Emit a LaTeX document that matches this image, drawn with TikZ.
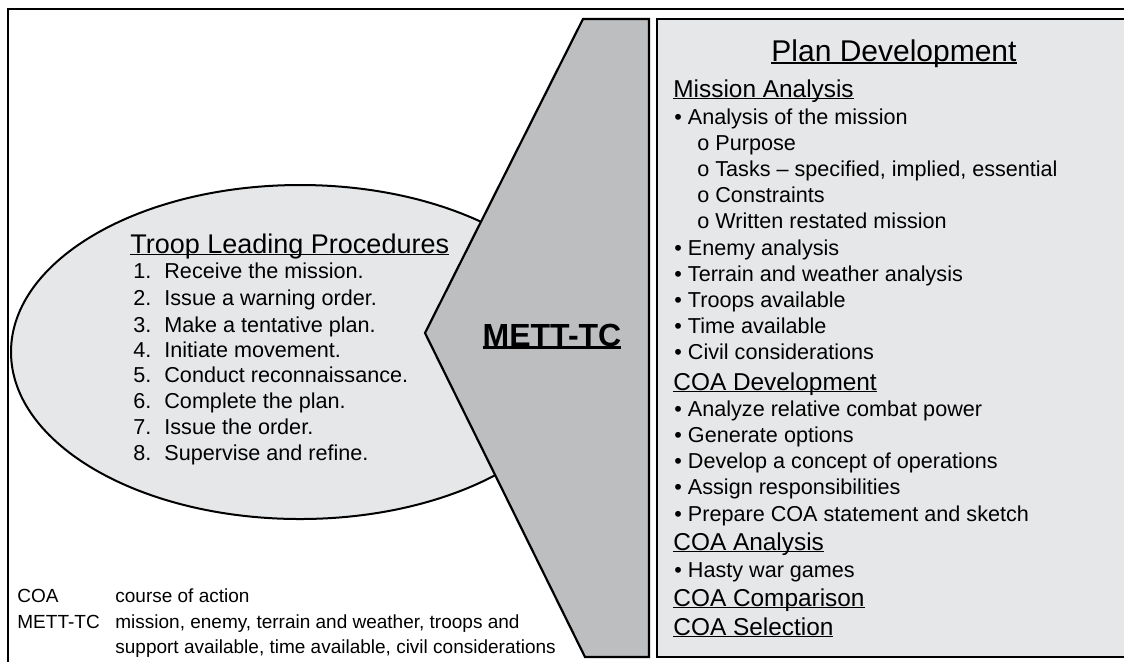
\documentclass[tikz,border=0pt]{standalone}
\usepackage{fontspec}
\setmainfont{Liberation Sans}
\definecolor{lightfill}{RGB}{230,231,232}
\definecolor{darkfill}{RGB}{188,190,192}
\newcommand{\undl}[2][0.06em]{\setbox0=\hbox{#2}\rlap{\rule[-0.09em]{\wd0}{#1}}\box0}

\begin{document}
\begin{tikzpicture}[x=0.5pt, y=-0.5pt,
  item/.style={anchor=base west, inner sep=0pt, font=\fontsize{10.8}{13}\selectfont},
  heading/.style={anchor=base west, inner sep=0pt, font=\fontsize{12.2}{14}\selectfont},
  proc/.style={anchor=base west, inner sep=0pt, font=\fontsize{10.8}{13}\selectfont},
  legend/.style={anchor=base west, inner sep=0pt, font=\fontsize{9.5}{12}\selectfont}]
\useasboundingbox (0,0) rectangle (1124,661);
\draw [line width=1.3pt] (8,700) -- (8,9) -- (1200,9);
\draw [fill=lightfill, line width=1pt] (300,352) ellipse [x radius=289, y radius=167];
\draw [fill=darkfill, line width=1.1pt] (583,19) -- (649,19) -- (649,657) -- (585,657) -- (425,333) -- cycle;
\draw [fill=lightfill, line width=1.3pt] (657,19) rectangle (1150,657);

\node [anchor=base, inner sep=0pt, font=\fontsize{16}{19}\bfseries] (mett) at (552,346) {\undl[0.09em]{METT-TC}};

\node [anchor=base west, inner sep=0pt, font=\fontsize{13.5}{16}\selectfont] (tlp) at (130,253) {\undl{Troop Leading Procedures}};
\foreach \yy/\txt [count=\i] in {278/Receive the mission., 305/Issue a warning order., 332/Make a tentative plan., 357/Initiate movement., 382/Conduct reconnaissance., 408/Complete the plan., 434/Issue the order., 460/Supervise and refine.}
  \node [proc] (proc-\i) at (133,\yy) {\makebox[15.5pt][l]{\i.}\txt};

\node [anchor=base, inner sep=0pt, font=\fontsize{15}{18}\selectfont] (pd) at (894,61) {\undl{Plan Development}};
\node [heading] (ma) at (673,97) {\undl{Mission Analysis}};
\node [item] (ma-1) at (674,124) {• Analysis of the mission};
\foreach \yy/\txt [count=\i] in {150/Purpose, 176/{Tasks – specified, implied, essential}, 202/Constraints, 228/Written restated mission}
  \node [item] (sub-\i) at (697,\yy) {o \txt};
\foreach \yy/\txt [count=\i from 2] in {255/Enemy analysis, 281/Terrain and weather analysis, 307/Troops available, 333/Time available, 359/Civil considerations}
  \node [item] (ma-\i) at (674,\yy) {• \txt};

\node [heading] (dev) at (673,390) {\undl{COA Development}};
\foreach \yy/\txt [count=\i] in {416/Analyze relative combat power, 442/Generate options, 468/Develop a concept of operations, 494/Assign responsibilities, 521/Prepare COA statement and sketch}
  \node [item] (dev-\i) at (674,\yy) {• \txt};

\node [heading] (ana) at (673,550) {\undl{COA Analysis}};
\node [item] (ana-1) at (674,577) {• Hasty war games};
\node [heading] (comp) at (673,606) {\undl{COA Comparison}};
\node [heading] (sel) at (673,635) {\undl{COA Selection}};

\node [legend] (coa) at (17,602) {COA};
\node [legend] (coa-def) at (115,602) {course of action};
\node [legend] (mt) at (17,628) {METT-TC};
\node [legend] (mt-def) at (115,628) {mission, enemy, terrain and weather, troops and};
\node [legend] (mt-def2) at (115,653) {support available, time available, civil considerations};

\end{tikzpicture}
\end{document}
